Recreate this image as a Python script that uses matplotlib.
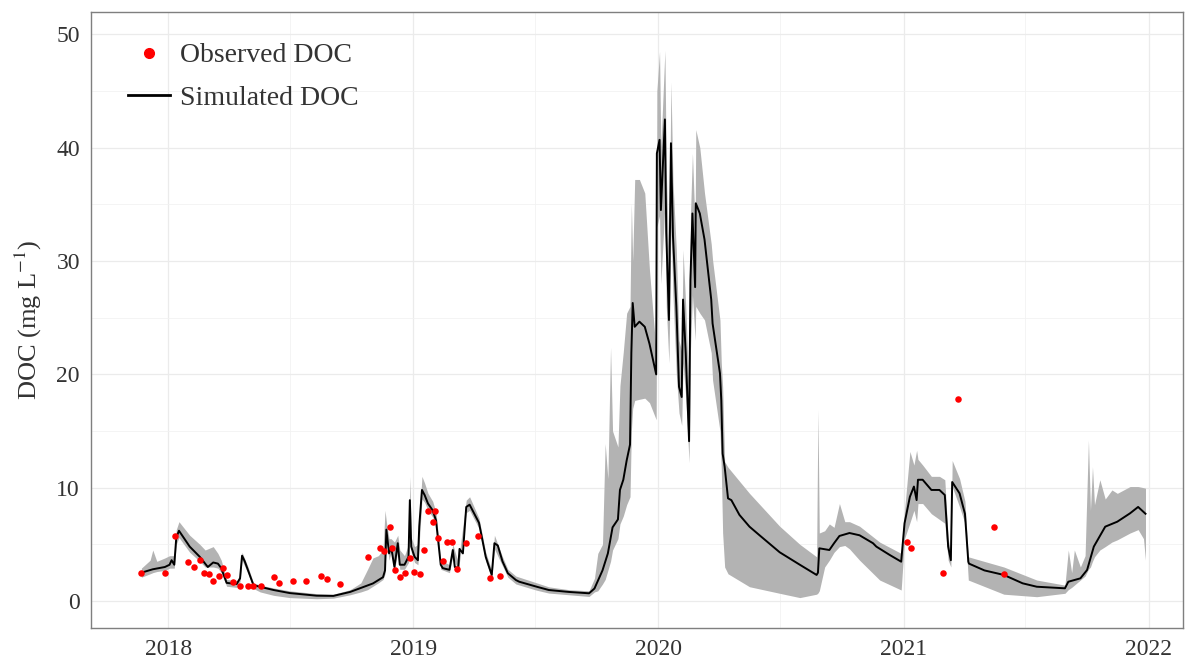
import matplotlib
matplotlib.use("Agg")
import matplotlib.pyplot as plt
import matplotlib.dates as mdates
from matplotlib.lines import Line2D
import pandas as pd

plt.rcParams["font.family"] = ["Liberation Serif", "DejaVu Serif"]
plt.rcParams["mathtext.fontset"] = "stix"

# simulated DOC (mg/L)
sim_dates = [
    "2017-11-22", "2017-12-09", "2017-12-27", "2018-01-03", "2018-01-06", "2018-01-10",
    "2018-01-13", "2018-01-17", "2018-02-02", "2018-02-17", "2018-03-01", "2018-03-09",
    "2018-03-16", "2018-03-21", "2018-03-29", "2018-04-13", "2018-04-18", "2018-04-21",
    "2018-04-25", "2018-04-30", "2018-05-08", "2018-05-18", "2018-06-07", "2018-07-01",
    "2018-08-10", "2018-09-04", "2018-09-29", "2018-11-02", "2018-11-17", "2018-11-20",
    "2018-11-22", "2018-11-26", "2018-11-29", "2018-12-04", "2018-12-09", "2018-12-12",
    "2018-12-19", "2018-12-25", "2018-12-27", "2018-12-29", "2019-01-03", "2019-01-08",
    "2019-01-10", "2019-01-14", "2019-01-18", "2019-01-23", "2019-01-30", "2019-02-04",
    "2019-02-11", "2019-02-14", "2019-02-24", "2019-03-01", "2019-03-04", "2019-03-09",
    "2019-03-11", "2019-03-16", "2019-03-21", "2019-03-26", "2019-04-02", "2019-04-09",
    "2019-04-19", "2019-04-28", "2019-05-02", "2019-05-07", "2019-05-14", "2019-05-22",
    "2019-06-03", "2019-06-08", "2019-07-04", "2019-07-22", "2019-08-21", "2019-09-20",
    "2019-09-28", "2019-10-10", "2019-10-18", "2019-10-25", "2019-11-02", "2019-11-05",
    "2019-11-10", "2019-11-15", "2019-11-20", "2019-11-22", "2019-11-24", "2019-11-27",
    "2019-12-04", "2019-12-12", "2019-12-19", "2019-12-29", "2019-12-30", "2020-01-03",
    "2020-01-05", "2020-01-11", "2020-01-13", "2020-01-17", "2020-01-20", "2020-01-23",
    "2020-01-28", "2020-02-01", "2020-02-05", "2020-02-07", "2020-02-11", "2020-02-16",
    "2020-02-18", "2020-02-21", "2020-02-25", "2020-02-26", "2020-03-03", "2020-03-10",
    "2020-03-20", "2020-03-22", "2020-04-02", "2020-04-04", "2020-04-06", "2020-04-09",
    "2020-04-14", "2020-04-19", "2020-05-01", "2020-05-16", "2020-05-31", "2020-06-30",
    "2020-07-30", "2020-08-24", "2020-08-26", "2020-08-28", "2020-09-12", "2020-09-19",
    "2020-09-27", "2020-10-12", "2020-10-27", "2020-11-16", "2020-11-21", "2020-12-11",
    "2020-12-28", "2021-01-02", "2021-01-10", "2021-01-16", "2021-01-20", "2021-01-22",
    "2021-01-29", "2021-02-11", "2021-02-23", "2021-03-03", "2021-03-08", "2021-03-12",
    "2021-03-14", "2021-03-25", "2021-04-02", "2021-04-07", "2021-04-08", "2021-05-01",
    "2021-05-30", "2021-06-27", "2021-07-18", "2021-08-29", "2021-09-03", "2021-09-21",
    "2021-10-01", "2021-10-11", "2021-10-28", "2021-11-15", "2021-12-04", "2021-12-16",
    "2021-12-27",
]
sim_vals = [
    2.5, 2.8, 3.0, 3.2, 3.6, 3.2,
    5.6, 6.2, 4.8, 3.9, 3.0, 3.4,
    3.3, 2.9, 1.6, 1.5, 2.0, 4.0,
    3.5, 2.7, 1.4, 1.25, 0.97, 0.7,
    0.47, 0.45, 0.8, 1.55, 2.1, 2.7,
    6.3, 4.2, 4.8, 3.0, 5.1, 3.2,
    3.2, 3.9, 8.9, 4.8, 3.9, 3.6,
    6.6, 9.8, 9.35, 8.6, 8.0, 7.1,
    3.2, 2.9, 2.75, 4.5, 3.0, 2.9,
    4.6, 4.2, 8.3, 8.5, 7.7, 6.9,
    3.9, 2.3, 5.1, 4.9, 3.5, 2.45,
    1.85, 1.7, 1.26, 0.97, 0.8, 0.68,
    1.1, 2.7, 4.2, 6.5, 7.2, 9.8,
    10.7, 12.4, 13.8, 21.9, 26.3, 24.2,
    24.65, 24.2, 22.7, 20.0, 39.5, 40.7,
    34.5, 42.5, 32.5, 24.8, 40.4, 32.2,
    26.0, 18.9, 18.0, 26.6, 21.9, 14.1,
    28.3, 34.2, 27.7, 35.1, 34.2, 31.9,
    26.6, 24.5, 20.1, 17.7, 13.0, 11.85,
    9.06, 8.9, 7.6, 6.56, 5.8, 4.3,
    3.2, 2.3, 2.5, 4.65, 4.5, 5.1,
    5.74, 6.0, 5.8, 5.1, 4.8, 4.06,
    3.47, 6.86, 9.2, 10.1, 8.9, 10.7,
    10.7, 9.8, 9.8, 9.35, 4.8, 3.6,
    10.5, 9.5, 7.7, 3.47, 3.3, 2.7,
    2.3, 1.56, 1.26, 1.12, 1.7, 2.0,
    2.74, 4.8, 6.56, 7.0, 7.74, 8.3,
    7.7,
]

# uncertainty band of the simulation
band_dates = [
    "2017-11-22", "2017-12-05", "2017-12-09", "2017-12-15", "2017-12-27", "2018-01-03",
    "2018-01-10", "2018-01-13", "2018-01-17", "2018-02-02", "2018-02-17", "2018-02-25",
    "2018-03-09", "2018-03-16", "2018-03-21", "2018-03-29", "2018-04-13", "2018-04-18",
    "2018-04-21", "2018-04-30", "2018-05-08", "2018-05-18", "2018-06-07", "2018-07-01",
    "2018-08-10", "2018-09-04", "2018-09-29", "2018-10-15", "2018-10-25", "2018-11-02",
    "2018-11-10", "2018-11-17", "2018-11-20", "2018-11-22", "2018-11-26", "2018-11-29",
    "2018-12-04", "2018-12-09", "2018-12-12", "2018-12-19", "2018-12-25", "2018-12-27",
    "2018-12-29", "2019-01-03", "2019-01-08", "2019-01-14", "2019-01-18", "2019-01-23",
    "2019-01-30", "2019-02-04", "2019-02-11", "2019-02-24", "2019-03-01", "2019-03-09",
    "2019-03-21", "2019-03-26", "2019-04-09", "2019-04-19", "2019-04-28", "2019-05-02",
    "2019-05-14", "2019-05-22", "2019-06-03", "2019-07-04", "2019-07-22", "2019-08-21",
    "2019-09-20", "2019-09-28", "2019-10-03", "2019-10-10", "2019-10-14", "2019-10-18",
    "2019-10-22", "2019-10-25", "2019-11-02", "2019-11-05", "2019-11-10", "2019-11-15",
    "2019-11-20", "2019-11-22", "2019-11-24", "2019-11-27", "2019-12-04", "2019-12-12",
    "2019-12-19", "2019-12-29", "2019-12-30", "2020-01-03", "2020-01-05", "2020-01-11",
    "2020-01-13", "2020-01-17", "2020-01-20", "2020-01-23", "2020-01-28", "2020-02-01",
    "2020-02-05", "2020-02-07", "2020-02-11", "2020-02-16", "2020-02-18", "2020-02-21",
    "2020-02-25", "2020-02-26", "2020-03-03", "2020-03-10", "2020-03-20", "2020-03-22",
    "2020-04-02", "2020-04-04", "2020-04-06", "2020-04-09", "2020-04-14", "2020-05-16",
    "2020-06-30", "2020-07-30", "2020-08-24", "2020-08-26", "2020-08-28", "2020-09-05",
    "2020-09-12", "2020-09-19", "2020-09-27", "2020-10-05", "2020-10-12", "2020-10-27",
    "2020-11-26", "2020-12-28", "2021-01-02", "2021-01-10", "2021-01-16", "2021-01-20",
    "2021-01-22", "2021-01-29", "2021-02-11", "2021-02-23", "2021-03-03", "2021-03-08",
    "2021-03-12", "2021-03-14", "2021-03-25", "2021-04-02", "2021-04-07", "2021-05-30",
    "2021-07-18", "2021-08-29", "2021-09-03", "2021-09-08", "2021-09-12", "2021-09-21",
    "2021-09-28", "2021-10-03", "2021-10-06", "2021-10-09", "2021-10-12", "2021-10-20",
    "2021-10-28", "2021-11-07", "2021-11-15", "2021-12-04", "2021-12-16", "2021-12-24",
    "2021-12-27",
]
band_lo = [
    2.1, 2.4, 2.5, 2.6, 2.7, 2.9,
    2.9, 5.0, 5.6, 4.3, 3.5, 3.0,
    3.0, 2.9, 2.5, 1.3, 1.2, 1.7,
    3.6, 2.4, 1.1, 0.8, 0.5, 0.3,
    0.2, 0.25, 0.55, 0.8, 1.0, 1.3,
    1.6, 1.9, 2.4, 5.5, 3.6, 4.3,
    2.6, 4.5, 2.8, 2.8, 3.4, 7.8,
    4.3, 3.4, 3.2, 9.0, 8.7, 8.0,
    7.4, 6.6, 2.8, 2.5, 4.0, 2.6,
    7.8, 8.0, 6.4, 3.5, 2.0, 4.6,
    3.1, 2.1, 1.5, 0.95, 0.7, 0.55,
    0.4, 0.8, 0.9, 1.5, 1.9, 2.7,
    3.5, 4.5, 5.5, 6.8, 7.5, 8.5,
    9.2, 15.0, 17.0, 17.7, 17.8, 17.9,
    17.5, 16.0, 33.0, 34.0, 28.0, 35.0,
    26.0, 21.0, 33.0, 27.0, 20.0, 16.6,
    15.5, 21.0, 18.0, 12.2, 22.0, 27.0,
    23.0, 26.0, 25.4, 24.8, 21.9, 19.5,
    15.0, 11.6, 6.0, 3.0, 2.4, 1.26,
    0.68, 0.3, 0.6, 0.7, 0.9, 3.0,
    3.6, 4.3, 4.8, 4.9, 4.6, 3.6,
    1.85, 0.97, 5.5, 6.9, 8.0, 7.0,
    8.6, 8.6, 7.7, 7.2, 6.86, 3.6,
    3.0, 10.1, 8.3, 6.86, 1.85, 0.6,
    0.38, 0.68, 1.0, 1.2, 1.4, 1.85,
    2.2, 2.8, 3.0, 3.5, 3.9, 4.5,
    4.8, 5.2, 5.4, 6.0, 6.3, 5.5,
    3.6,
]
band_hi = [
    2.9, 3.6, 4.5, 3.5, 3.8, 4.0,
    4.0, 6.3, 7.0, 5.8, 5.0, 4.5,
    4.8, 4.2, 3.6, 1.9, 1.8, 2.3,
    4.3, 3.0, 1.6, 1.4, 1.15, 0.9,
    0.65, 0.6, 1.0, 1.6, 2.8, 3.8,
    4.0, 4.5, 8.0, 7.0, 5.5, 5.5,
    5.2, 5.8, 4.5, 4.0, 5.0, 11.0,
    5.6, 4.8, 5.0, 11.0, 10.4, 9.5,
    8.8, 7.8, 3.6, 3.2, 5.0, 3.4,
    8.9, 9.2, 7.3, 4.3, 2.7, 5.8,
    3.9, 2.8, 2.2, 1.6, 1.25, 1.0,
    0.9, 2.0, 4.2, 5.0, 13.9, 10.8,
    22.4, 15.0, 13.6, 19.0, 22.0, 25.4,
    26.0, 35.1, 30.0, 37.2, 37.2, 36.0,
    29.2, 21.9, 45.0, 48.5, 40.0, 48.6,
    38.0, 30.0, 45.8, 37.0, 31.0, 23.0,
    22.0, 31.0, 26.0, 18.0, 34.0, 39.5,
    33.0, 41.6, 40.0, 36.0, 31.5, 30.1,
    24.8, 21.0, 18.9, 12.3, 11.8, 9.5,
    6.6, 5.0, 3.9, 16.9, 6.0, 6.2,
    6.8, 6.5, 8.6, 7.0, 7.0, 6.6,
    5.2, 4.2, 8.0, 13.2, 12.0, 13.3,
    12.5, 12.0, 11.0, 11.0, 10.7, 5.5,
    4.2, 12.4, 10.8, 8.8, 3.9, 3.0,
    1.85, 1.4, 4.5, 2.5, 4.5, 3.0,
    4.0, 14.2, 8.0, 11.85, 8.5, 10.7,
    9.0, 9.8, 9.5, 10.1, 10.1, 10.0,
    9.95,
]

# grab samples
obs_dates = [
    "2017-11-22", "2017-12-27", "2018-01-11", "2018-01-31", "2018-02-08", "2018-02-17",
    "2018-02-23", "2018-03-02", "2018-03-09", "2018-03-17", "2018-03-24", "2018-03-29",
    "2018-04-07", "2018-04-18", "2018-04-30", "2018-05-08", "2018-05-19", "2018-06-07",
    "2018-06-15", "2018-07-06", "2018-07-25", "2018-08-16", "2018-08-25", "2018-09-14",
    "2018-10-26", "2018-11-12", "2018-11-19", "2018-11-27", "2018-12-01", "2018-12-05",
    "2018-12-13", "2018-12-20", "2018-12-27", "2019-01-02", "2019-01-11", "2019-01-17",
    "2019-01-23", "2019-01-31", "2019-02-03", "2019-02-07", "2019-02-14", "2019-02-20",
    "2019-02-28", "2019-03-07", "2019-03-20", "2019-04-08", "2019-04-25", "2019-05-10",
    "2021-01-06", "2021-01-11", "2021-03-01", "2021-03-23", "2021-05-16", "2021-05-30",
]
obs_vals = [
    2.5, 2.5, 5.7, 3.4, 3.0, 3.6,
    2.5, 2.4, 1.8, 2.2, 2.9, 2.3,
    1.7, 1.3, 1.3, 1.3, 1.35, 2.1,
    1.6, 1.8, 1.8, 2.2, 1.9, 1.5,
    3.9, 4.7, 4.4, 6.5, 4.65, 2.7,
    2.1, 2.5, 3.8, 2.6, 2.4, 4.5,
    7.9, 7.0, 7.9, 5.6, 3.5, 5.2,
    5.2, 2.8, 5.1, 5.7, 2.0, 2.2,
    5.2, 4.7, 2.5, 17.8, 6.5, 2.4,
]

sim_t = pd.to_datetime(sim_dates)
band_t = pd.to_datetime(band_dates)
obs_t = pd.to_datetime(obs_dates)

fig = plt.figure(figsize=(11.87, 6.66), dpi=100)
ax = fig.add_axes([0.0767, 0.0571, 0.92, 0.9249])

ax.fill_between(band_t, band_lo, band_hi, color="#b3b3b3", lw=0, zorder=2)
ax.plot(sim_t, sim_vals, color="black", lw=1.4, zorder=3)
ax.scatter(obs_t, obs_vals, s=22, color="red", lw=0, zorder=4)

ax.set_xlim(pd.Timestamp("2017-09-08"), pd.Timestamp("2022-02-21"))
ax.set_ylim(-2.38, 51.98)
ax.xaxis.set_major_locator(mdates.YearLocator())
ax.xaxis.set_major_formatter(mdates.DateFormatter("%Y"))
ax.xaxis.set_minor_locator(mdates.MonthLocator(bymonth=7))
ax.set_yticks(range(0, 51, 10))
ax.set_yticks(range(5, 50, 10), minor=True)

ax.grid(which="major", color="#ebebeb", lw=0.9, zorder=0)
ax.grid(which="minor", color="#f2f2f2", lw=0.6, zorder=0)
ax.set_axisbelow(True)
ax.tick_params(which="both", length=0, labelsize=17, labelcolor="#333333", pad=8)
for s in ax.spines.values():
    s.set_color("#7f7f7f")
    s.set_linewidth(1.0)

ax.set_ylabel("DOC (mg L$^{-1}$)", fontsize=19, color="#333333", labelpad=9)

handles = [
    Line2D([], [], marker="o", ls="none", color="red", markersize=7),
    Line2D([], [], color="black", lw=2),
]
ax.legend(handles, ["Observed DOC", "Simulated DOC"], loc="upper left",
          bbox_to_anchor=(0.034, 0.95), frameon=False, fontsize=20,
          labelcolor="#333333", handlelength=1.5, handletextpad=0.35,
          labelspacing=0.62, borderaxespad=0, borderpad=0)

fig.savefig("out.png", dpi=100)
